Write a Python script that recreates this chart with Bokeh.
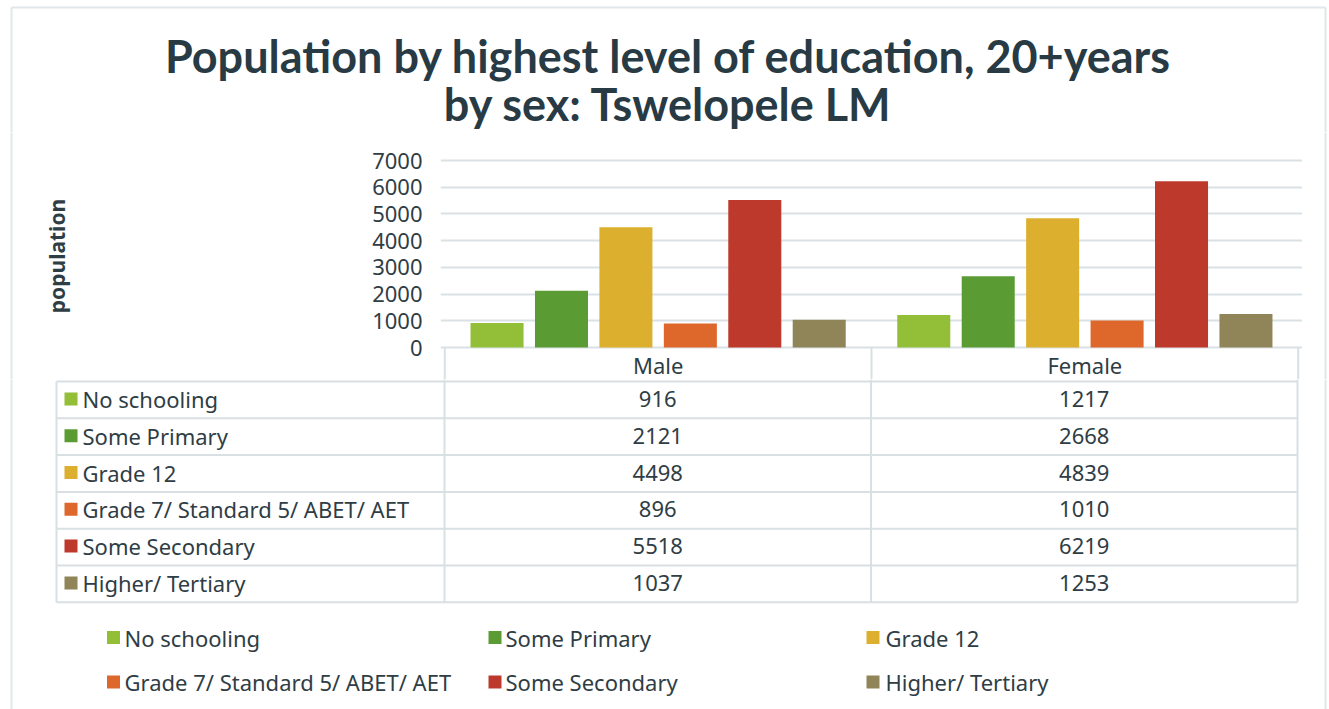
from bokeh.plotting import figure
from bokeh.models import FactorRange, Range1d, FixedTicker, ColumnDataSource
from bokeh.transform import dodge
from bokeh.layouts import column, row
from bokeh.embed import file_html
from bokeh.resources import INLINE
from bokeh.core.properties import value

# ---------------- data ----------------
title_lines = ["Population by highest level of education, 20+years", "by sex: Tswelopele LM"]
y_label = "population"
sexes = ["Male", "Female"]
levels = ["No schooling", "Some Primary", "Grade 12",
          "Grade 7/ Standard 5/ ABET/ AET", "Some Secondary", "Higher/ Tertiary"]
male = [916, 2121, 4498, 896, 5518, 1037]
female = [1217, 2668, 4839, 1010, 6219, 1253]
y_ticks = [0, 1000, 2000, 3000, 4000, 5000, 6000, 7000]
colors = ["#92be38", "#5a9c33", "#dcb02e", "#de672b", "#bd392c", "#908559"]

# ---------------- styles / layout (pixels) ----------------
TXT = "#2f3d45"
TITLE_C = "#283b45"
GRID = "#d9e1e5"
LINE = "#d8e0e3"
BORDER = "#e0e7ea"
FONT = "Noto Sans"
FS = "22px"
W, H = 1329, 709
CAT_W = 426.5                 # pixel width of one category column
PAD = 0.01
FRAME_L = round(444 - PAD * CAT_W)
FRAME_R = 1302
TOP = 160                     # y of 7000
ZERO = 347                    # y of 0
P0_BOT = 132                  # title strip ends
P1_BOT = 379                  # bar figure ends
STRIP_L = 20                  # left strip (outer border)
PX_PER = (ZERO - TOP) / y_ticks[-1]
BL, BR, BT = 11, 1325, 7      # outer chart border

def py(img_y):  # pixel y -> data value (bar figure)
    return (ZERO - img_y) / PX_PER

common = dict(output_backend="svg", toolbar_location=None)

def blank(fig):
    fig.frame_align = False
    fig.outline_line_color = None
    fig.axis.visible = False
    fig.grid.visible = False
    return fig

# ---------------- title strip ----------------
p0 = blank(figure(width=W, height=P0_BOT, x_range=Range1d(0, W), y_range=Range1d(P0_BOT, 0),
                  min_border=0, **common))
p0.text(x=[W / 2 + 3.5] * 2, y=[55, 103], text=title_lines, text_align="center",
        text_baseline="middle", text_font=value("Lato"), text_font_style="bold",
        text_font_size="45px", text_color=TITLE_C)
p0.segment(x0=[BL, BL, BR], y0=[BT, BT, BT], x1=[BR, BL, BR], y1=[BT, P0_BOT, P0_BOT],
           line_color=BORDER, line_width=2)

# ---------------- border strips beside the bar figure ----------------
H1 = P1_BOT - P0_BOT
pL = blank(figure(width=STRIP_L, height=H1, x_range=Range1d(0, STRIP_L), y_range=Range1d(0, 1),
                  min_border=0, **common))
pL.segment(x0=[BL], y0=[0], x1=[BL], y1=[1], line_color=BORDER, line_width=2)
pR = blank(figure(width=W - FRAME_R, height=H1, x_range=Range1d(FRAME_R, W), y_range=Range1d(0, 1),
                  min_border=0, **common))
pR.segment(x0=[BR], y0=[0], x1=[BR], y1=[1], line_color=BORDER, line_width=2)

# ---------------- bar figure ----------------
p1 = figure(width=FRAME_R - STRIP_L, height=H1,
            x_range=FactorRange(*sexes, range_padding=PAD),
            y_range=Range1d(py(P1_BOT), py(P0_BOT)),
            min_border_left=FRAME_L - STRIP_L, min_border_right=0,
            min_border_top=0, min_border_bottom=0, **common)
p1.frame_align = False
p1.outline_line_color = None
p1.xaxis.visible = False
p1.xgrid.visible = False

ax = p1.yaxis[0]
ax.ticker = FixedTicker(ticks=y_ticks)
ax.axis_line_color = None
ax.major_tick_line_color = None
ax.minor_tick_line_color = None
ax.major_tick_out = 0
ax.major_tick_in = 0
ax.major_label_standoff = 18
ax.major_label_text_font = FONT
ax.major_label_text_font_size = FS
ax.major_label_text_color = TXT
ax.axis_label = y_label
ax.axis_label_text_font = FONT
ax.axis_label_text_font_style = "bold"
ax.axis_label_text_font_size = "21px"
ax.axis_label_text_color = TXT
ax.axis_label_standoff = 298
p1.ygrid.grid_line_color = GRID
p1.ygrid.grid_line_width = 2

pitch = 0.151
bw = 53 / CAT_W
for k, lvl in enumerate(levels):
    src = ColumnDataSource(dict(sex=sexes, val=[male[k], female[k]]))
    p1.vbar(x=dodge("sex", (k - 2.5) * pitch, range=p1.x_range), top="val", width=bw,
            source=src, fill_color=colors[k], line_color=None)

# header row of the data table (below zero)
p1.segment(x0=[0, 1, 2], y0=[0, 0, 0], x1=[0, 1, 2], y1=[py(P1_BOT)] * 3,
           line_color=LINE, line_width=2)
p1.text(x=sexes, y=[py(364)] * 2, text=sexes, text_align="center", text_baseline="middle",
        text_font=value(FONT), text_font_size=FS, text_color=TXT)

# ---------------- table body + legend ----------------
p2 = blank(figure(width=W, height=H - P1_BOT, x_range=Range1d(0, W), y_range=Range1d(H, P1_BOT),
                  min_border=0, **common))

TB_TOP, ROW_H = 381, 36.8
TB_L, COL_X = 56, [444, 870.5, 1297]
n = len(levels)
row_lines = [TB_TOP + i * ROW_H for i in range(n + 1)]
p2.segment(x0=[TB_L] * (n + 1), y0=row_lines, x1=[COL_X[-1]] * (n + 1), y1=row_lines,
           line_color=LINE, line_width=2)
p2.segment(x0=[TB_L], y0=[TB_TOP], x1=[TB_L], y1=[row_lines[-1]], line_color=LINE, line_width=2)
p2.segment(x0=COL_X, y0=[P1_BOT] * 3, x1=COL_X, y1=[row_lines[-1]] * 3,
           line_color=LINE, line_width=2)
p2.segment(x0=[BL, BR], y0=[P1_BOT] * 2, x1=[BL, BR], y1=[H] * 2, line_color=BORDER, line_width=2)

row_c = [TB_TOP + (i + 0.5) * ROW_H - 1 for i in range(n)]
p2.rect(x=[70.5] * n, y=row_c, width=13, height=13, fill_color=colors, line_color=None)
p2.text(x=[82] * n, y=row_c, text=levels, text_align="left", text_baseline="middle",
        text_font=value(FONT), text_font_size=FS, text_color=TXT)
col_c = [(COL_X[0] + COL_X[1]) / 2, (COL_X[1] + COL_X[2]) / 2]
for cx, vals in zip(col_c, (male, female)):
    p2.text(x=[cx] * n, y=row_c, text=[str(v) for v in vals], text_align="center",
            text_baseline="middle", text_font=value(FONT), text_font_size=FS, text_color=TXT)

# legend (3 columns x 2 rows)
leg_mx = [113, 494.5, 872.5]
leg_tx = [124, 505, 885]
leg_y = [637, 681.5]
lx = [leg_mx[i % 3] for i in range(n)]
ly = [leg_y[i // 3] for i in range(n)]
tx = [leg_tx[i % 3] for i in range(n)]
p2.rect(x=lx, y=ly, width=13, height=13, fill_color=colors, line_color=None)
p2.text(x=tx, y=ly, text=levels, text_align="left", text_baseline="middle",
        text_font=value(FONT), text_font_size=FS, text_color=TXT)

layout = column(p0, row(pL, p1, pR, spacing=0), p2, spacing=0)
open("out.html", "w").write(file_html(layout, INLINE))
